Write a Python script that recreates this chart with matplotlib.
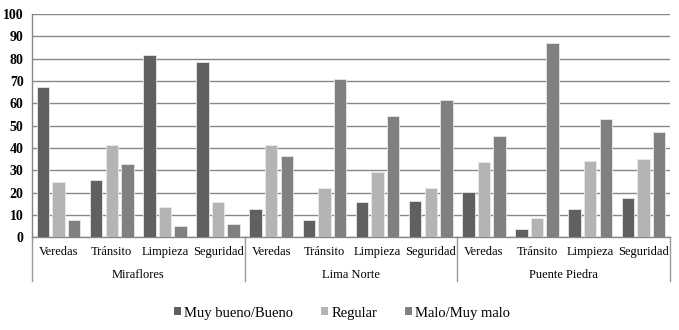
import matplotlib
matplotlib.use("Agg")
import matplotlib.pyplot as plt
import matplotlib.transforms as mtransforms
from matplotlib.patches import Patch
import numpy as np

groups = ["Miraflores", "Lima Norte", "Puente Piedra"]
categories = ["Veredas", "Tránsito", "Limpieza", "Seguridad"]
series_names = ["Muy bueno/Bueno", "Regular", "Malo/Muy malo"]

muy_bueno = [67.1, 25.7, 81.7, 78.4,
             12.6, 7.9, 15.9, 16.3,
             20.5, 3.6, 12.6, 17.8]
regular = [24.7, 41.2, 13.5, 15.6,
           41.2, 22.3, 29.3, 22.3,
           33.7, 8.8, 34.1, 35.2]
malo = [7.9, 32.8, 5.1, 6.0,
        36.2, 70.8, 54.3, 61.5,
        45.5, 87.0, 53.0, 47.0]
yticks = [0, 10, 20, 30, 40, 50, 60, 70, 80, 90, 100]

colors = ["#606060", "#b4b4b4", "#808080"]
series = [muy_bueno, regular, malo]

plt.rcParams['font.family'] = ['Liberation Serif', 'DejaVu Serif']

fig = plt.figure(figsize=(6.79, 3.30), dpi=100)
ax = fig.add_axes([32/679, 1-237.3/330, (670-32)/679, (237.3-14)/330])

n = len(muy_bueno)
x = np.arange(n)
step = 0.293
width = 0.235
for i, (vals, c) in enumerate(zip(series, colors)):
    ax.bar(x + (i-1)*step, vals, width=width, color=c, edgecolor="#e8e8e8",
           linewidth=0.6, zorder=3)

ax.set_xlim(-0.5, n-0.5)
ax.set_ylim(0, 100)
ax.set_yticks(yticks)
ax.set_yticklabels([str(t) for t in yticks], fontsize=10, fontweight='bold')
ax.tick_params(axis='y', length=0, pad=6)
ax.tick_params(axis='x', length=0, labelbottom=False)
ax.grid(axis='y', color="#878787", linewidth=1.0, zorder=1)
for s in ["top", "right"]:
    ax.spines[s].set_visible(False)
ax.spines["left"].set_color("#878787")
ax.spines["bottom"].set_color("#878787")
ax.spines["left"].set_linewidth(1.0)
ax.spines["bottom"].set_linewidth(1.0)

trans = mtransforms.blended_transform_factory(ax.transData, ax.transAxes)
labels_all = categories * len(groups)
for xi, lab in zip(x, labels_all):
    ax.text(xi, -0.065, lab, transform=trans, ha='center', va='center', fontsize=9)
ng = len(categories)
for gi, g in enumerate(groups):
    cx = gi*ng + (ng-1)/2
    ax.text(cx, -0.167, g, transform=trans, ha='center', va='center', fontsize=9)
for b in range(len(groups)+1):
    bx = b*ng - 0.5
    ax.plot([bx, bx], [0, -0.197], transform=trans, color="#9a9a9a",
            linewidth=1.0, clip_on=False)

handles = [Patch(facecolor=c, edgecolor='none') for c in colors]
fig.legend(handles, series_names, loc='center', bbox_to_anchor=(342/679, 1-313/330),
           ncol=3, frameon=False, fontsize=10.5, handlelength=0.5, handleheight=0.5,
           handletextpad=0.2, columnspacing=1.9)

fig.savefig("out.png", dpi=100)
